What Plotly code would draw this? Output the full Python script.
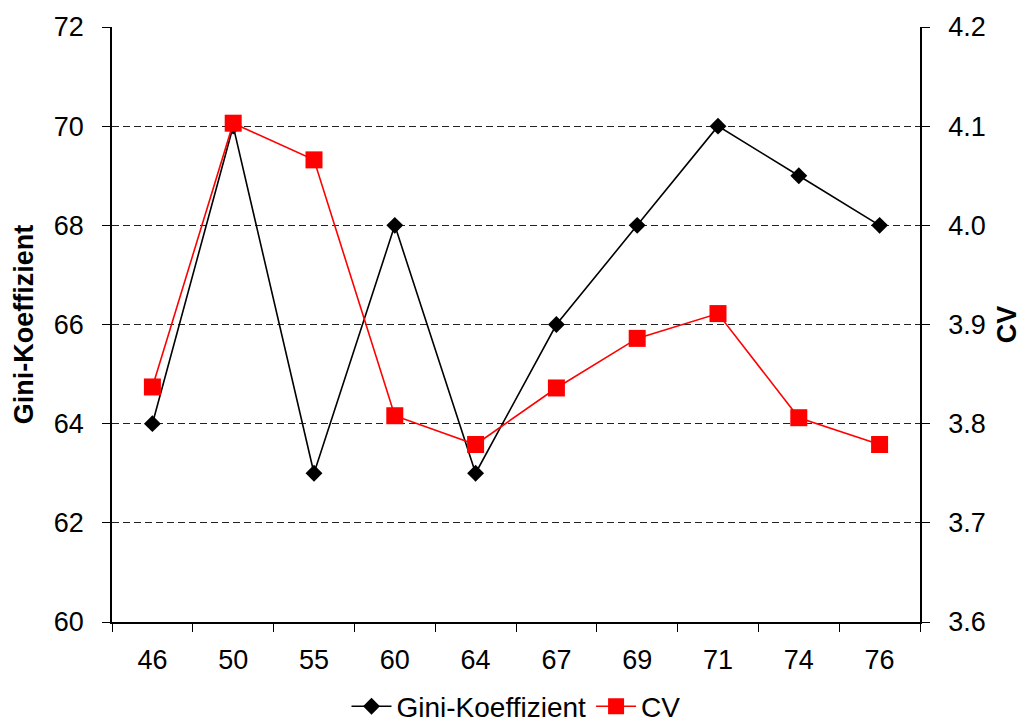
import plotly.graph_objects as go

# Age groups on the category axis
categories = ["46", "50", "55", "60", "64", "67", "69", "71", "74", "76"]
# Gini coefficient (left axis)
gini = [64, 70, 63, 68, 63, 66, 68, 70, 69, 68]
# Coefficient of variation (right axis)
cv = [3.837, 4.103, 4.066, 3.808, 3.779, 3.836, 3.886, 3.911, 3.806, 3.779]

FONT = "Liberation Sans, Arial, sans-serif"

fig = go.Figure()
fig.add_trace(go.Scatter(
    x=categories, y=gini, name="Gini-Koeffizient", mode="lines+markers",
    line=dict(color="black", width=1.6),
    marker=dict(symbol="diamond", size=13, color="black"),
))
fig.add_trace(go.Scatter(
    x=categories, y=cv, name="CV", mode="lines+markers", yaxis="y2",
    line=dict(color="#ff0000", width=1.6),
    marker=dict(symbol="square", size=17, color="#ff0000"),
))

fig.update_layout(
    width=1027, height=726,
    margin=dict(l=112, r=107, t=27, b=104, autoexpand=False),
    plot_bgcolor="white", paper_bgcolor="white",
    font=dict(family=FONT, size=27, color="black"),
    showlegend=True,
    legend=dict(orientation="h", x=0.5, xanchor="center",
                y=-0.1, yanchor="top",
                font=dict(size=28), itemwidth=40, tracegroupgap=0,
                bgcolor="rgba(0,0,0,0)", borderwidth=0),
    xaxis=dict(
        type="category", range=[-0.5, len(categories) - 0.5],
        showgrid=False, showline=True, linecolor="black", linewidth=1.5,
        ticks="outside", ticklen=8, tickcolor="black", tickson="boundaries",
        ticklabelstandoff=13, zeroline=False, automargin=False,
    ),
    yaxis=dict(
        range=[60, 72], dtick=2, showline=True, linecolor="black", linewidth=1.5,
        ticks="outside", ticklen=8, tickcolor="black",
        showgrid=True, gridcolor="#222222", griddash="7px,4px", gridwidth=1,
        zeroline=False, ticklabelstandoff=13, automargin=False,
        title=dict(text="<b>Gini-Koeffizient</b>", font=dict(size=27), standoff=12),
    ),
    yaxis2=dict(
        range=[3.6, 4.2], dtick=0.1, tickformat=".1f", overlaying="y", side="right",
        showline=True, linecolor="black", linewidth=1.5,
        ticks="outside", ticklen=8, tickcolor="black", showgrid=False, zeroline=False,
        ticklabelstandoff=13, automargin=False,
        title=dict(text="<b>CV</b>", font=dict(size=27), standoff=12),
    ),
)

fig.write_html("out.html")
